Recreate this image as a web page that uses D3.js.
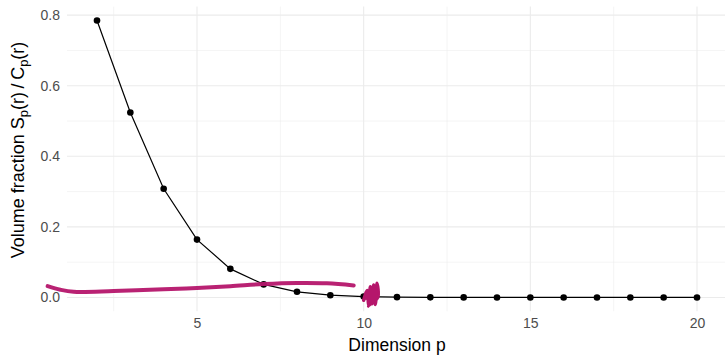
<!DOCTYPE html>
<html>
<head>
<meta charset="UTF-8">
<script src="https://d3js.org/d3.v7.min.js"></script>
<style>
  body { margin:0; background:#fff; }
  svg { display:block; font-family: "Liberation Sans", Arial, sans-serif; }
</style>
</head>
<body>
<svg width="725" height="357"></svg>
<script>
// dimension p and volume fraction S_p(r)/C_p(r)
const dims = [2,3,4,5,6,7,8,9,10,11,12,13,14,15,16,17,18,19,20];
const fraction = [0.785,0.524,0.308,0.164,0.081,0.037,0.016,0.0064,0.0025,0.0009,
                  0.0003,0.0001,0.00003,0.00001,0,0,0,0,0];
// hand-drawn magenta stroke (p, value)
const strokeX = [0.52,0.9,1.3,2.5,4.0,5.0,6.0,7.0,8.0,8.9,9.7];
const strokeY = [0.032,0.022,0.016,0.018,0.023,0.027,0.032,0.038,0.041,0.040,0.034];
// scribble near p = 10
const scribX = [10.0,10.1,10.15,10.2,10.25,10.3,10.35,10.4,10.42,10.25,10.05,10.35,10.15,10.3];
const scribY = [-0.008,0.02,-0.02,0.03,-0.018,0.035,-0.02,0.04,0.0,-0.01,0.005,0.015,-0.025,0.0];

const xTicks = [5,10,15,20];
const yTicks = [0,0.2,0.4,0.6,0.8];

const svg = d3.select('svg');
const x = d3.scaleLinear().domain([1.1, 20.9]).range([67, 727]);
const y = d3.scaleLinear().domain([-0.03925, 0.82425]).range([311.3, 6.6]);

const grid = svg.append('g');
// minor grid
d3.range(2.5, 21, 5).forEach(v => {
  grid.append('line').attr('x1', x(v)).attr('x2', x(v)).attr('y1', 6.6).attr('y2', 311.3)
    .attr('stroke', '#ebebeb').attr('stroke-width', 0.55);
});
d3.range(0.1, 0.82, 0.2).forEach(v => {
  grid.append('line').attr('x1', 67).attr('x2', 727).attr('y1', y(v)).attr('y2', y(v))
    .attr('stroke', '#ebebeb').attr('stroke-width', 0.55);
});
xTicks.forEach(v => {
  grid.append('line').attr('x1', x(v)).attr('x2', x(v)).attr('y1', 6.6).attr('y2', 311.3)
    .attr('stroke', '#ebebeb').attr('stroke-width', 1.1);
});
yTicks.forEach(v => {
  grid.append('line').attr('x1', 67).attr('x2', 727).attr('y1', y(v)).attr('y2', y(v))
    .attr('stroke', '#ebebeb').attr('stroke-width', 1.1);
});

// axes (labels only)
const xAxis = svg.append('g').attr('transform', 'translate(0,314)')
  .call(d3.axisBottom(x).tickValues(xTicks).tickSize(0).tickPadding(4));
const yAxis = svg.append('g').attr('transform', 'translate(64,0)')
  .call(d3.axisLeft(y).tickValues(yTicks).tickSize(0).tickPadding(4).tickFormat(d3.format('.1f')));
[xAxis, yAxis].forEach(a => {
  a.select('.domain').remove();
  a.selectAll('text').attr('fill', '#4d4d4d').style('font-size', '14px')
    .style('font-family', '"Liberation Sans", Arial, sans-serif');
});

// titles
svg.append('text').attr('x', x(11)).attr('y', 351).attr('text-anchor', 'middle')
  .style('font-size', '17.5px').attr('fill', '#000').text('Dimension p');
const yt = svg.append('text').attr('transform', 'translate(24,150) rotate(-90)')
  .attr('text-anchor', 'middle').style('font-size', '18px').attr('fill', '#000');
yt.append('tspan').text('Volume fraction S');
yt.append('tspan').attr('dy', 4).style('font-size', '13px').text('p');
yt.append('tspan').attr('dy', -4).text('(r)\u2009/\u2009C');
yt.append('tspan').attr('dy', 4).style('font-size', '13px').text('p');
yt.append('tspan').attr('dy', -4).text('(r)');

// data line and points
const pts = dims.map((d, i) => [d, fraction[i]]);
svg.append('path').datum(pts)
  .attr('d', d3.line().x(d => x(d[0])).y(d => y(d[1])))
  .attr('fill', 'none').attr('stroke', '#000').attr('stroke-width', 1.2);
svg.append('g').selectAll('circle').data(pts).join('circle')
  .attr('cx', d => x(d[0])).attr('cy', d => y(d[1])).attr('r', 3.3).attr('fill', '#000');

// magenta strokes
const mag = '#b5166b';
svg.append('path').datum(strokeX.map((v, i) => [v, strokeY[i]]))
  .attr('d', d3.line().x(d => x(d[0])).y(d => y(d[1])).curve(d3.curveCatmullRom))
  .attr('fill', 'none').attr('stroke', mag).attr('stroke-width', 4)
  .attr('stroke-linecap', 'round').attr('stroke-opacity', 0.95);
svg.append('path').datum(scribX.map((v, i) => [v, scribY[i]]))
  .attr('d', d3.line().x(d => x(d[0])).y(d => y(d[1])).curve(d3.curveCatmullRom))
  .attr('fill', 'none').attr('stroke', mag).attr('stroke-width', 3.5)
  .attr('stroke-linecap', 'round').attr('stroke-linejoin', 'round');
</script>
</body>
</html>
